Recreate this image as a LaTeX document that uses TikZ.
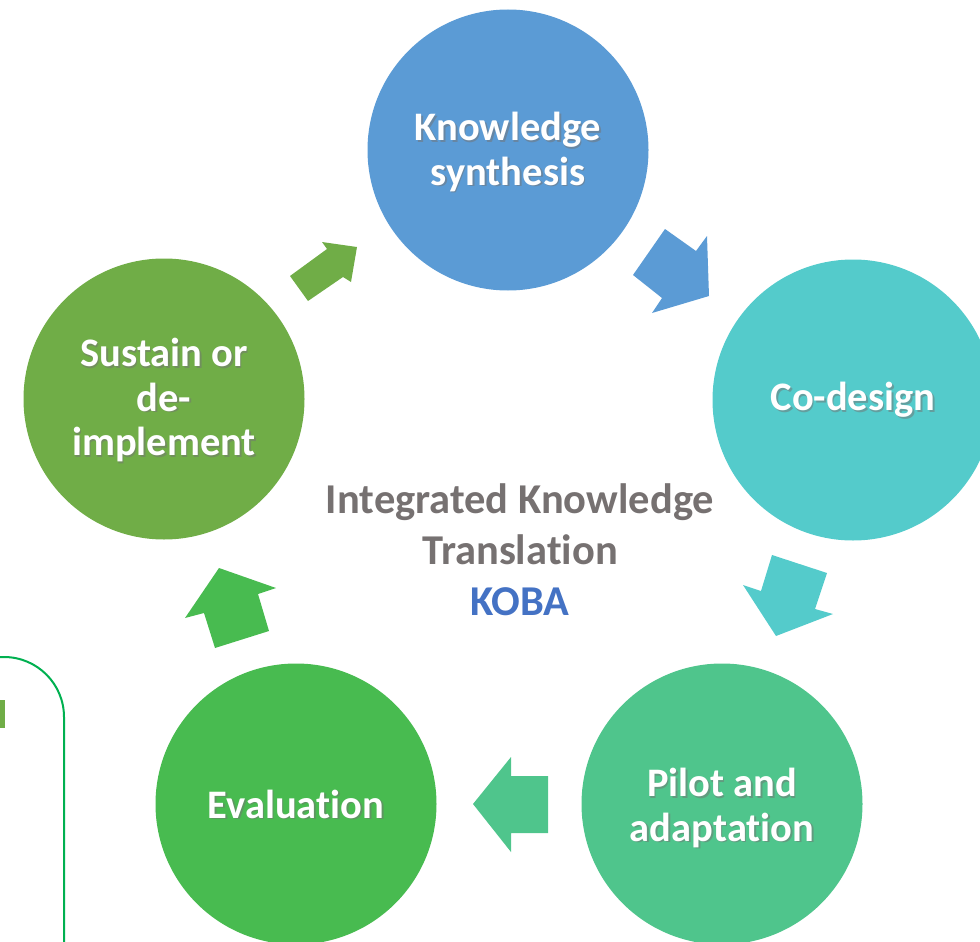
\documentclass[tikz,border=0pt]{standalone}
\usepackage{fontspec}
\setmainfont[Ligatures={NoCommon}]{Carlito}
\usetikzlibrary{calc,positioning}
\definecolor{ksblue}{HTML}{5B9BD5}
\definecolor{cdteal}{HTML}{54CBCB}
\definecolor{pagreen}{HTML}{4FC58C}
\definecolor{evgreen}{HTML}{48BB50}
\definecolor{sdgreen}{HTML}{70AD47}
\definecolor{boxgreen}{HTML}{00B050}
\definecolor{midgray}{HTML}{767171}
\definecolor{kobablue}{HTML}{4472C4}
\def\stagelabel(#1)(#2)#3{
	\node[lbl, text=black!55, opacity=0.5] (#2-sh) at ($(#1)+(1.6,1.6)$) {#3};
	\node[lbl] (#2) at (#1) {#3};
}

\begin{document}
\begin{tikzpicture}[x=1pt, y=-1pt,
	stage/.style={circle, minimum size=281pt, inner sep=0pt},
	lbl/.style={align=center, text=white, font=\fontsize{40.5}{44.5}\selectfont\bfseries},
	title/.style={anchor=base, inner sep=0pt, font=\fontsize{42.5}{45}\selectfont\bfseries}]
		%%%%% START %%%%%
		
		\useasboundingbox (0, 0) rectangle (980, 942);
		\clip (0, 0) rectangle (980, 942);
		
		% left box
		\draw[boxgreen, line width=2pt, rounded corners=60] (-200, 657) -- (64, 657) -- (64, 1000);
		\fill[sdgreen] (-2, 700) rectangle (5, 728);
		
		% stages
		\node[stage, fill=ksblue] (ks) at (508, 150) {};
		\node[stage, fill=cdteal] (cd) at (853, 400) {};
		\node[stage, fill=pagreen] (pa) at (722, 804) {};
		\node[stage, fill=evgreen] (ev) at (296, 804) {};
		\node[stage, fill=sdgreen] (sd) at (164, 399) {};
		
		\stagelabel(508, 152)(ks-t){Knowledge\\synthesis}
		\stagelabel(853, 400)(cd-t){Co-design}
		\stagelabel(722, 808)(pa-t){Pilot and\\adaptation}
		\stagelabel(296, 804)(ev-t){Evaluation}
		\stagelabel(164, 400)(sd-t){Sustain or\\de-\\implement}
		
		% block arrows
		\fill[sdgreen] (290, 276) -- (327, 249) -- (322, 242) -- (357, 247) -- (351, 282) -- (343, 277) -- (308, 301) -- cycle;
		\fill[ksblue] (633, 275) -- (665, 229) -- (696, 251) -- (707, 236) -- (709, 296) -- (652, 313) -- (662, 298) -- cycle;
		\fill[cdteal] (772, 555) -- (827, 573) -- (815, 609) -- (833, 614) -- (776, 636) -- (743, 585) -- (761, 591) -- cycle;
		\fill[pagreen] (473, 804) -- (511, 757) -- (511, 776) -- (548, 776) -- (548, 833) -- (511, 833) -- (511, 852) -- cycle;
		\fill[evgreen] (219, 568) -- (276, 588) -- (258, 594) -- (269, 631) -- (215, 648) -- (204, 613) -- (185, 618) -- cycle;
		
		% centre title
		\node[title, text=midgray] (ikt) at (520, 513) {Integrated Knowledge};
		\node[title, text=midgray] (tra) at (520, 564) {Translation};
		\node[title, text=kobablue] (koba) at (520, 615) {KOBA};
		
		%%%%% END %%%%%
	\end{tikzpicture}
\end{document}
